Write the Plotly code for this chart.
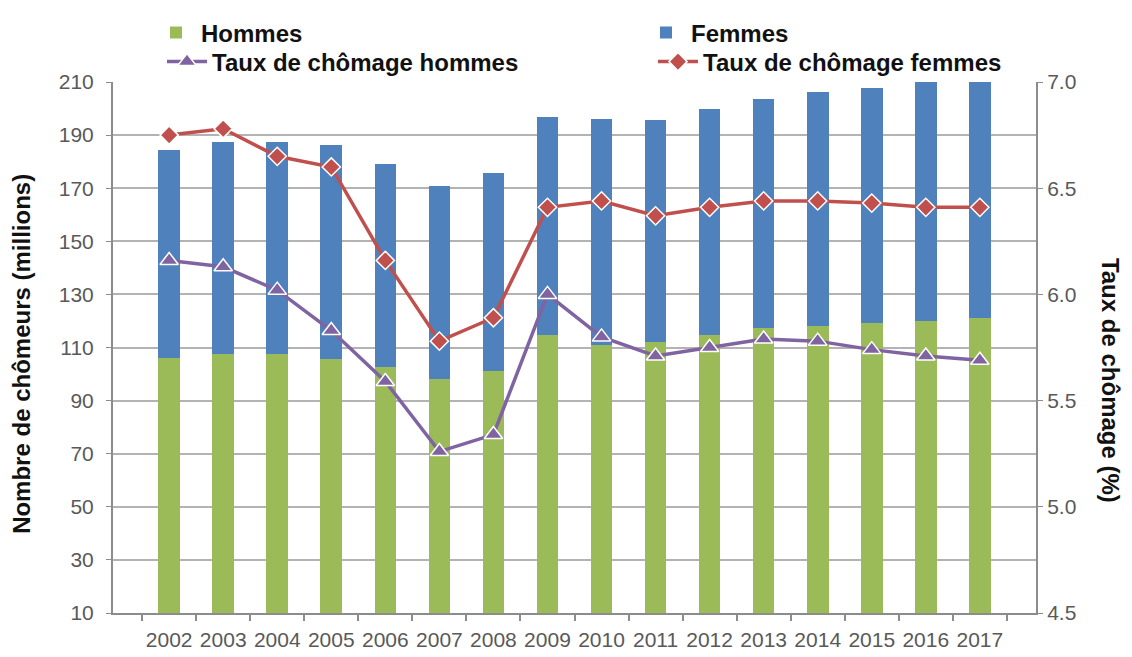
import plotly.graph_objects as go

years = ["2002", "2003", "2004", "2005", "2006", "2007", "2008", "2009",
         "2010", "2011", "2012", "2013", "2014", "2015", "2016", "2017"]
hommes = [106.2, 107.4, 107.4, 105.5, 102.8, 98.1, 101.1, 114.7,
          111.0, 112.2, 114.6, 117.2, 118.1, 119.3, 120.1, 121.0]
total = [184.4, 187.4, 187.4, 186.4, 179.1, 170.8, 175.8, 196.9,
         195.9, 195.7, 199.8, 203.6, 206.2, 207.7, 210.5, 212.0]
femmes = [round(t - h, 1) for t, h in zip(total, hommes)]
taux_hommes = [6.16, 6.13, 6.02, 5.83, 5.59, 5.26, 5.34, 6.00,
               5.80, 5.71, 5.75, 5.79, 5.78, 5.74, 5.71, 5.69]
taux_femmes = [6.75, 6.78, 6.65, 6.60, 6.16, 5.78, 5.89, 6.41,
               6.44, 6.37, 6.41, 6.44, 6.44, 6.43, 6.41, 6.41]

GREEN = "#9BBB59"
BLUE = "#4F81BD"
PURPLE = "#8064A2"
RED = "#C0504D"
TICKFONT = dict(family="Liberation Sans", size=21, color="#595959")
LEGFONT = dict(family="Liberation Sans", size=24, color="#111111")
TITLEFONT = dict(family="Liberation Sans", size=24, color="#111111")

fig = go.Figure()
fig.add_trace(go.Bar(x=years, y=hommes, name="<b>Hommes</b>", marker=dict(color=GREEN, line_width=0),
                     width=0.4, legend="legend2"))
fig.add_trace(go.Bar(x=years, y=femmes, name="<b>Femmes</b>", marker=dict(color=BLUE, line_width=0),
                     width=0.4, legend="legend3"))
fig.add_trace(go.Scatter(x=years, y=taux_hommes, yaxis="y2", mode="lines+markers",
                         name="<b>Taux de chômage hommes</b>",
                         line=dict(color=PURPLE, width=3.5),
                         marker=dict(symbol="triangle-up", size=16, color=PURPLE,
                                     line=dict(color="white", width=1.5)),
                         legend="legend4"))
fig.add_trace(go.Scatter(x=years, y=taux_femmes, yaxis="y2", mode="lines+markers",
                         name="<b>Taux de chômage femmes</b>",
                         line=dict(color=RED, width=3.5),
                         marker=dict(symbol="diamond", size=14, color=RED,
                                     line=dict(color="white", width=1.5)),
                         legend="legend5"))


def leg(xpx, ypx):
    return dict(x=xpx / 1132, y=1 - ypx / 657, xref="container", yref="container",
                xanchor="left", yanchor="middle", orientation="v",
                font=LEGFONT, bgcolor="rgba(0,0,0,0)", itemwidth=40)


fig.update_layout(
    width=1132, height=657,
    margin=dict(l=105, r=104, t=74, b=52, autoexpand=False),
    paper_bgcolor="white", plot_bgcolor="white",
    barmode="stack",
    xaxis=dict(type="category", tickfont=TICKFONT, showgrid=False, tickangle=0,
               showline=True, linecolor="#8c8c8c", linewidth=2,
               ticks="outside", tickson="boundaries", ticklen=6, tickcolor="#8c8c8c",
               tickwidth=1.5, ticklabelstandoff=7),
    yaxis=dict(range=[10, 210], tick0=10, dtick=20, tickfont=TICKFONT,
               showgrid=True, gridcolor="#b3b3b3", gridwidth=2,
               showline=True, linecolor="#8c8c8c", linewidth=2,
               ticks="outside", ticklen=5, tickcolor="#8c8c8c", zeroline=False,
               ticklabelstandoff=8),
    yaxis2=dict(range=[4.5, 7.0], dtick=0.5, tickformat=".1f", tickfont=TICKFONT,
                overlaying="y", side="right", showgrid=False,
                showline=True, linecolor="#8c8c8c", linewidth=2,
                ticks="outside", ticklen=5, tickcolor="#8c8c8c", zeroline=False),
    legend2=leg(143, 25),
    legend3=leg(633, 25),
    legend4=leg(154, 54),
    legend5=leg(645, 54),
    annotations=[
        dict(text="<b>Nombre de chômeurs (millions)</b>", xref="paper", yref="paper",
             x=(14 - 105) / 923, y=0.488, textangle=-90, showarrow=False,
             xanchor="center", yanchor="middle", font=TITLEFONT),
        dict(text="<b>Taux de chômage (%)</b>", xref="paper", yref="paper",
             x=(1102 - 105) / 923, y=0.439, textangle=90, showarrow=False,
             xanchor="center", yanchor="middle", font=TITLEFONT),
    ],
)

fig.write_html("out.html")
